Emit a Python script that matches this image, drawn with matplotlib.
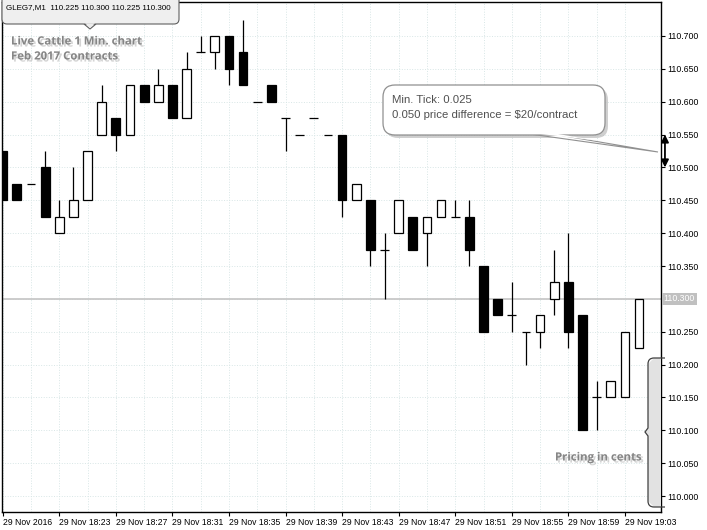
import matplotlib
matplotlib.use('Agg')
import matplotlib.pyplot as plt
import matplotlib.patheffects as pe
from matplotlib.patches import FancyBboxPatch, Polygon, PathPatch
from matplotlib.path import Path
import numpy as np

# 1-minute candles, Live Cattle Feb 2017 (GLEG7), starting 29 Nov 2016 18:19
opens = [110.525, 110.475, 110.475, 110.500, 110.400, 110.425, 110.450, 110.550,
         110.575, 110.550, 110.625, 110.600, 110.625, 110.575, 110.675, 110.675,
         110.700, 110.675, 110.600, 110.625, 110.575, 110.550, 110.575, 110.550,
         110.550, 110.450, 110.450, 110.375, 110.400, 110.425, 110.400, 110.425,
         110.425, 110.425, 110.350, 110.300, 110.275, 110.250, 110.250, 110.300,
         110.325, 110.275, 110.150, 110.150, 110.150, 110.225]
highs = [110.525, 110.475, 110.475, 110.525, 110.450, 110.500, 110.525, 110.625,
         110.575, 110.625, 110.625, 110.650, 110.625, 110.675, 110.700, 110.700,
         110.700, 110.725, 110.600, 110.625, 110.575, 110.550, 110.575, 110.550,
         110.550, 110.475, 110.450, 110.400, 110.450, 110.425, 110.425, 110.450,
         110.450, 110.450, 110.350, 110.300, 110.325, 110.250, 110.275, 110.375,
         110.400, 110.275, 110.175, 110.175, 110.250, 110.300]
lows = [110.450, 110.450, 110.475, 110.425, 110.400, 110.425, 110.450, 110.550,
        110.525, 110.550, 110.600, 110.600, 110.575, 110.575, 110.675, 110.650,
        110.625, 110.625, 110.600, 110.600, 110.525, 110.550, 110.575, 110.550,
        110.425, 110.450, 110.350, 110.300, 110.400, 110.375, 110.350, 110.425,
        110.425, 110.350, 110.250, 110.275, 110.250, 110.200, 110.225, 110.275,
        110.225, 110.100, 110.100, 110.150, 110.150, 110.225]
closes = [110.450, 110.450, 110.475, 110.425, 110.425, 110.450, 110.525, 110.600,
          110.550, 110.625, 110.600, 110.625, 110.575, 110.650, 110.675, 110.700,
          110.650, 110.625, 110.600, 110.600, 110.575, 110.550, 110.575, 110.550,
          110.450, 110.475, 110.375, 110.375, 110.450, 110.375, 110.425, 110.450,
          110.425, 110.375, 110.250, 110.275, 110.275, 110.250, 110.275, 110.325,
          110.250, 110.100, 110.150, 110.175, 110.250, 110.300]

time_labels = ['29 Nov 2016', '29 Nov 18:23', '29 Nov 18:27', '29 Nov 18:31',
               '29 Nov 18:35', '29 Nov 18:39', '29 Nov 18:43', '29 Nov 18:47',
               '29 Nov 18:51', '29 Nov 18:55', '29 Nov 18:59', '29 Nov 19:03']
price_ticks = [110.000, 110.050, 110.100, 110.150, 110.200, 110.250, 110.300,
               110.350, 110.400, 110.450, 110.500, 110.550, 110.600, 110.650, 110.700]
bid = 110.300

W, H = 707, 530
fig = plt.figure(figsize=(W / 100, H / 100), dpi=100)
ax = fig.add_axes([2 / W, 18 / H, 659 / W, 510 / H])

x = np.arange(len(opens))
o = np.array(opens)
c = np.array(closes)
bw = 0.62

# wicks, then bodies on top
ax.vlines(x, lows, highs, color='black', lw=0.9, zorder=3)
up = c > o
dn = c < o
flat = c == o
ax.bar(x[up], (c - o)[up], bottom=o[up], width=bw, facecolor='white',
       edgecolor='black', lw=0.9, zorder=4)
ax.bar(x[dn], (o - c)[dn], bottom=c[dn], width=bw, facecolor='black',
       edgecolor='black', lw=0.9, zorder=4)
ax.hlines(o[flat], x[flat] - bw / 2, x[flat] + bw / 2, color='black', lw=0.9, zorder=4)

# bid line
ax.axhline(bid, color='#c8c8c8', lw=1.3, zorder=2)

ax.set_xlim(-0.05, 46.55)
ax.set_ylim(109.9757, 110.7517)

ax.set_xticks(np.arange(0, 45, 4))
ax.set_xticklabels(time_labels, ha='left', family='Liberation Sans', fontsize=6.2)
ax.set_xticks(np.arange(2, 46, 4), minor=True)
ax.yaxis.tick_right()
ax.set_yticks(price_ticks)
ax.set_yticklabels(['' if p == bid else f'{p:.3f}' for p in price_ticks],
                   family='Liberation Sans', fontsize=6.3)
ax.tick_params(which='major', length=3, width=0.8, pad=1.5)
ax.tick_params(which='minor', length=0)
ax.grid(which='both', color='#d8e6e6', ls=':', lw=0.7, zorder=0)
for s in ax.spines.values():
    s.set_linewidth(1.0)

# bid label on price scale
ax.text(1.004, bid, f'{bid:.3f}', transform=ax.get_yaxis_transform(), va='center',
        ha='left', fontsize=6.3, family='Liberation Sans', color='white',
        bbox=dict(boxstyle='square,pad=0.2', fc='#c0c0c0', ec='none'), zorder=6)

# double arrow = 0.050 price difference
ax.annotate('', xy=(1.006, 110.500), xytext=(1.006, 110.550),
            xycoords=('axes fraction', 'data'), annotation_clip=False,
            arrowprops=dict(arrowstyle='<|-|>', color='black', lw=1.3,
                            mutation_scale=11, shrinkA=0, shrinkB=0))

# overlay in pixel coordinates for the callouts
ov = fig.add_axes([0, 0, 1, 1], zorder=5)
ov.set_xlim(0, W)
ov.set_ylim(H, 0)
ov.axis('off')
ov.patch.set_alpha(0)

shadow = [pe.withSimplePatchShadow(offset=(1.5, -1.5), shadow_rgbFace='#b8b8b8', alpha=0.6)]

# header box
ov.add_patch(Polygon([(84, 24), (90, 29), (96, 24)], closed=True, fc='#ececec',
                     ec='#606060', lw=0.8, zorder=1))
ov.add_patch(FancyBboxPatch((2, -10), 177, 34, boxstyle='round,pad=0,rounding_size=5',
                            fc='#efefef', ec='#606060', lw=0.8, zorder=2))
ov.add_patch(Polygon([(85, 23.2), (90, 28), (95, 23.2)], closed=True, fc='#ececec',
                     ec='none', zorder=3))
ov.text(6, 8, 'GLEG7,M1  110.225 110.300 110.225 110.300', fontsize=5.8,
        family='Liberation Sans', color='black', va='center', ha='left', zorder=4)

# chart titles
for txt, yy in [('Live Cattle 1 Min. chart', 42), ('Feb 2017 Contracts', 57)]:
    ov.text(11, yy, txt, fontsize=8.2, family='Open Sans', fontweight='bold',
            color='#858585', va='center', ha='left', path_effects=shadow)

ov.text(555, 458, 'Pricing in cents', fontsize=8.2, family='Open Sans', fontweight='bold',
        color='#858585', va='center', ha='left', path_effects=shadow)

# callout with tail
ov.add_patch(FancyBboxPatch((386, 88), 222, 50, boxstyle='round,pad=0,rounding_size=12',
                            fc='#b0b0b0', ec='none', alpha=0.6, zorder=1))
ov.add_patch(Polygon([(530, 134), (553, 134), (658, 152)], closed=True, fc='white',
                     ec='#909090', lw=0.8, zorder=2))
ov.add_patch(FancyBboxPatch((383, 85), 222, 50, boxstyle='round,pad=0,rounding_size=12',
                            fc='white', ec='#909090', lw=0.9, zorder=3))
ov.add_patch(Polygon([(532, 133), (552, 133), (600, 141)], closed=True, fc='white',
                     ec='none', zorder=4))
ov.text(392, 100, 'Min. Tick: 0.025', fontsize=8.2, family='Liberation Sans',
        color='#505050', va='center', ha='left', zorder=5)
ov.text(392, 115, '0.050 price difference = $20/contract', fontsize=8.2,
        family='Liberation Sans', color='#505050', va='center', ha='left', zorder=5)

# bracket along the price scale
verts = [(665, 358), (654, 358), (648, 358), (648, 364), (648, 428), (645, 432),
         (648, 436), (648, 501), (648, 507), (654, 507), (665, 507)]
codes = [Path.MOVETO, Path.LINETO, Path.CURVE3, Path.CURVE3, Path.LINETO, Path.LINETO,
         Path.LINETO, Path.LINETO, Path.CURVE3, Path.CURVE3, Path.LINETO]
ov.add_patch(Polygon([(665, 358), (654, 358), (648, 364), (648, 428), (645, 432), (648, 436),
                      (648, 501), (654, 507), (661, 507), (661, 358)],
                     closed=True, fc='#e2e2e2', ec='none', zorder=1))
ov.add_patch(PathPatch(Path(verts, codes), fc='none', ec='#404040', lw=0.9, zorder=2))

fig.savefig('out.png', dpi=100, facecolor='white')
